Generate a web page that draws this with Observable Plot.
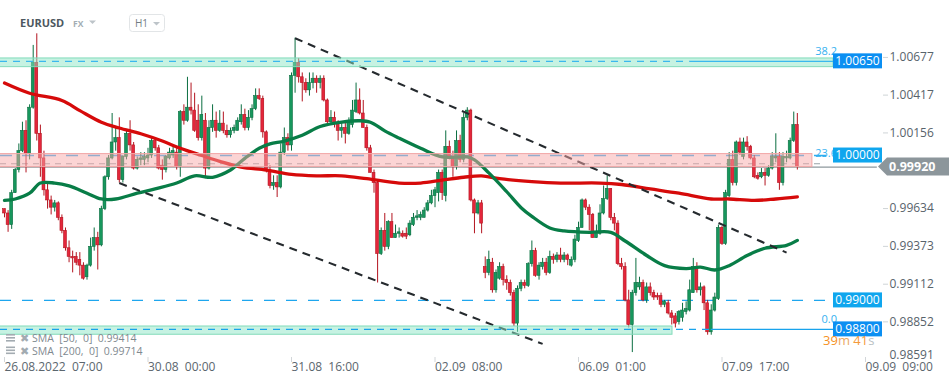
<!DOCTYPE html>
<html><head><meta charset="utf-8">
<script src="https://cdn.jsdelivr.net/npm/d3@7"></script>
<script src="https://cdn.jsdelivr.net/npm/@observablehq/plot@0.6"></script>
<style>
html,body{margin:0;padding:0;background:#fff;}
#chart{width:949px;height:384px;overflow:hidden;}
</style></head><body><div id="chart"></div>
<script>
// ---- Candles (EURUSD H1, bar index 0 = 26.08.2022 07:00) ----
const opens = [
0.9963,0.9960,0.9952,0.9974,0.9990,1.0003,1.0017,1.0001,1.0033,1.0064,
1.0015,0.9998,0.9976,0.9969,0.9964,0.9967,0.9957,0.9948,0.9936,0.9930,
0.9930,0.9928,0.9924,0.9916,0.9924,0.9937,0.9943,0.9938,0.9963,0.9985,
0.9998,1.0009,1.0012,0.9983,0.9999,1.0015,1.0007,0.9991,0.9997,0.9997,
0.9998,1.0000,1.0010,1.0005,0.9993,0.9990,0.9998,1.0000,1.0002,0.9992,
1.0030,1.0024,1.0033,1.0031,1.0024,1.0012,1.0024,0.9991,1.0019,1.0024,
1.0017,1.0022,1.0017,1.0014,1.0017,1.0017,1.0023,1.0028,1.0019,1.0026,
1.0032,1.0041,1.0039,1.0016,0.9990,0.9979,0.9981,0.9978,1.0002,1.0012,
1.0007,1.0055,1.0064,1.0054,1.0050,1.0045,1.0050,1.0053,1.0050,1.0053,
1.0038,1.0023,1.0026,1.0022,1.0017,1.0019,1.0015,1.0021,1.0030,1.0038,
1.0029,1.0019,1.0005,0.9988,0.9981,0.9932,0.9948,0.9937,0.9954,0.9943,
0.9946,0.9946,0.9946,0.9945,0.9952,0.9957,0.9957,0.9957,0.9962,0.9967,
0.9972,0.9974,0.9988,0.9972,1.0006,0.9999,0.9992,1.0010,0.9997,1.0026,
1.0031,0.9969,0.9960,0.9967,0.9923,0.9919,0.9926,0.9907,0.9915,0.9923,
0.9914,0.9912,0.9905,0.9884,0.9908,0.9912,0.9910,0.9925,0.9934,0.9917,
0.9923,0.9926,0.9919,0.9930,0.9928,0.9931,0.9928,0.9931,0.9924,0.9928,
0.9941,0.9950,0.9969,0.9964,0.9959,0.9943,0.9946,0.9960,0.9970,0.9977,
0.9957,0.9953,0.9925,0.9923,0.9900,0.9883,0.9905,0.9909,0.9912,0.9900,
0.9909,0.9905,0.9903,0.9903,0.9897,0.9898,0.9891,0.9889,0.9885,0.9888,
0.9892,0.9893,0.9905,0.9923,0.9907,0.9909,0.9898,0.9878,0.9893,0.9901,
0.9950,0.9939,0.9972,0.9997,0.9981,1.0009,0.9999,1.0009,1.0006,0.9998,
0.9986,0.9985,0.9988,0.9986,0.9991,0.9998,0.9999,0.9981,0.9998,0.9998,
1.0010,1.0021];
const highs = [
0.9963,0.9962,0.9976,0.9991,1.0008,1.0023,1.0024,1.0035,1.0076,1.0084,
1.0021,1.0003,0.9981,0.9972,0.9969,0.9968,0.9959,0.9950,0.9941,0.9934,
0.9933,0.9933,0.9926,0.9925,0.9943,0.9950,0.9947,0.9965,0.9986,1.0000,
1.0029,1.0019,1.0026,1.0000,1.0017,1.0024,1.0009,0.9999,1.0002,1.0002,
1.0005,1.0012,1.0012,1.0007,0.9997,1.0000,1.0005,1.0007,1.0005,1.0031,
1.0035,1.0054,1.0050,1.0043,1.0035,1.0041,1.0029,1.0024,1.0035,1.0030,
1.0031,1.0030,1.0021,1.0019,1.0021,1.0026,1.0035,1.0032,1.0031,1.0035,
1.0046,1.0046,1.0041,1.0017,0.9993,0.9986,0.9986,1.0008,1.0019,1.0015,
1.0057,1.0081,1.0067,1.0057,1.0053,1.0057,1.0057,1.0055,1.0055,1.0055,
1.0039,1.0031,1.0030,1.0024,1.0023,1.0023,1.0026,1.0038,1.0050,1.0046,
1.0038,1.0021,1.0007,0.9990,0.9983,0.9950,0.9960,0.9955,0.9960,0.9952,
0.9950,0.9948,0.9950,0.9955,0.9960,0.9962,0.9961,0.9964,0.9969,0.9976,
0.9978,0.9990,0.9990,1.0017,1.0010,1.0003,1.0017,1.0014,1.0029,1.0033,
1.0032,0.9970,0.9969,0.9969,0.9930,0.9934,0.9929,0.9921,0.9926,0.9925,
0.9917,0.9914,0.9907,0.9910,0.9914,0.9914,0.9926,0.9941,0.9936,0.9926,
0.9929,0.9929,0.9934,0.9932,0.9933,0.9936,0.9933,0.9932,0.9930,0.9945,
0.9954,0.9970,0.9970,0.9966,0.9960,0.9952,0.9966,0.9979,0.9986,0.9977,
0.9960,0.9955,0.9929,0.9926,0.9907,0.9907,0.9929,0.9916,0.9914,0.9912,
0.9912,0.9907,0.9905,0.9905,0.9900,0.9900,0.9893,0.9891,0.9893,0.9898,
0.9899,0.9914,0.9929,0.9926,0.9912,0.9910,0.9900,0.9897,0.9905,0.9952,
0.9951,0.9976,1.0002,1.0003,1.0010,1.0012,1.0012,1.0013,1.0007,1.0000,
0.9988,0.9991,0.9991,0.9993,1.0002,1.0015,1.0002,1.0002,1.0003,1.0012,
1.0030,1.0029];
const lows = [
0.9957,0.9947,0.9949,0.9974,0.9988,1.0002,0.9988,0.9997,1.0032,1.0010,
0.9985,0.9972,0.9963,0.9959,0.9961,0.9955,0.9946,0.9934,0.9926,0.9919,
0.9924,0.9917,0.9914,0.9914,0.9923,0.9934,0.9921,0.9937,0.9962,0.9983,
0.9997,1.0003,0.9981,0.9981,0.9997,1.0003,0.9990,0.9990,0.9993,0.9993,
0.9995,0.9998,1.0003,0.9990,0.9983,0.9988,0.9997,0.9998,0.9990,0.9985,
1.0021,1.0023,1.0028,1.0016,1.0010,1.0010,0.9984,0.9990,1.0016,1.0012,
1.0016,1.0015,1.0012,1.0012,1.0015,1.0017,1.0021,1.0017,1.0017,1.0024,
1.0031,1.0038,1.0012,0.9988,0.9977,0.9976,0.9971,0.9977,1.0000,1.0003,
1.0003,1.0043,1.0050,1.0037,1.0043,1.0041,1.0046,1.0043,1.0046,1.0037,
1.0021,1.0021,1.0019,1.0010,1.0012,1.0008,1.0014,1.0019,1.0029,1.0028,
1.0019,1.0003,0.9988,0.9974,0.9912,0.9931,0.9934,0.9935,0.9943,0.9943,
0.9943,0.9943,0.9942,0.9944,0.9951,0.9955,0.9955,0.9957,0.9961,0.9966,
0.9964,0.9968,0.9969,0.9968,0.9997,0.9985,0.9990,0.9995,0.9995,1.0024,
0.9968,0.9946,0.9959,0.9946,0.9915,0.9917,0.9905,0.9905,0.9914,0.9910,
0.9907,0.9903,0.9882,0.9878,0.9906,0.9908,0.9909,0.9923,0.9916,0.9914,
0.9921,0.9917,0.9918,0.9925,0.9926,0.9926,0.9926,0.9924,0.9923,0.9926,
0.9940,0.9950,0.9962,0.9948,0.9943,0.9943,0.9945,0.9959,0.9969,0.9955,
0.9948,0.9924,0.9921,0.9899,0.9881,0.9864,0.9903,0.9907,0.9899,0.9898,
0.9903,0.9900,0.9900,0.9895,0.9895,0.9890,0.9883,0.9881,0.9883,0.9885,
0.9890,0.9892,0.9905,0.9905,0.9903,0.9893,0.9876,0.9876,0.9892,0.9900,
0.9938,0.9938,0.9971,0.9979,0.9979,1.0000,0.9997,1.0003,0.9997,0.9984,
0.9983,0.9984,0.9979,0.9985,0.9990,0.9995,0.9976,0.9979,0.9995,0.9997,
1.0009,0.9990];
const closes = [
0.9960,0.9952,0.9974,0.9990,1.0003,1.0017,1.0001,1.0033,1.0064,1.0015,
0.9998,0.9976,0.9969,0.9964,0.9967,0.9957,0.9948,0.9936,0.9930,0.9929,
0.9926,0.9924,0.9915,0.9924,0.9937,0.9943,0.9938,0.9963,0.9985,0.9998,
1.0009,1.0012,0.9983,0.9999,1.0015,1.0007,0.9991,0.9997,0.9998,0.9999,
1.0000,1.0010,1.0005,0.9991,0.9990,0.9999,1.0002,1.0003,0.9992,1.0030,
1.0024,1.0033,1.0031,1.0017,1.0012,1.0028,0.9991,1.0019,1.0024,1.0017,
1.0022,1.0017,1.0014,1.0017,1.0019,1.0024,1.0028,1.0019,1.0026,1.0032,
1.0041,1.0039,1.0016,0.9990,0.9979,0.9981,0.9978,1.0002,1.0012,1.0007,
1.0055,1.0064,1.0054,1.0050,1.0045,1.0050,1.0053,1.0050,1.0053,1.0038,
1.0023,1.0026,1.0022,1.0017,1.0019,1.0015,1.0024,1.0031,1.0038,1.0029,
1.0019,1.0005,0.9988,0.9981,0.9932,0.9948,0.9937,0.9954,0.9943,0.9946,
0.9947,0.9944,0.9944,0.9953,0.9957,0.9958,0.9959,0.9962,0.9967,0.9972,
0.9976,0.9988,0.9974,1.0006,0.9999,0.9992,1.0010,0.9997,1.0026,1.0031,
0.9969,0.9960,0.9967,0.9953,0.9919,0.9928,0.9907,0.9919,0.9923,0.9914,
0.9912,0.9905,0.9884,0.9908,0.9912,0.9910,0.9925,0.9934,0.9917,0.9924,
0.9926,0.9919,0.9930,0.9928,0.9931,0.9928,0.9931,0.9928,0.9928,0.9942,
0.9950,0.9969,0.9964,0.9959,0.9943,0.9947,0.9960,0.9970,0.9977,0.9957,
0.9953,0.9925,0.9923,0.9900,0.9883,0.9905,0.9912,0.9912,0.9900,0.9909,
0.9905,0.9902,0.9902,0.9897,0.9899,0.9891,0.9888,0.9884,0.9892,0.9893,
0.9894,0.9907,0.9923,0.9907,0.9909,0.9898,0.9878,0.9893,0.9902,0.9950,
0.9939,0.9974,0.9997,0.9981,1.0009,1.0002,1.0009,1.0006,0.9998,0.9985,
0.9984,0.9988,0.9986,0.9991,0.9999,0.9999,0.9981,0.9999,0.9999,1.0010,
1.0021,0.9992];

// ---- Moving averages (bar index -> value) ----
const sma50Idx = [0,3,7,10,14,18,23,27,31,37,42,48,53,58,63,67,71,74,78,83,88,94,99,102,106,110,116,122,129,131,135,140,144,147,152,156,163,169,173,179,184,190,194,198,202,207,212,218,221];
const sma50 = [0.9969,0.9970,0.9974,0.9981,0.9981,0.9979,0.9974,0.9970,0.9970,0.9974,0.9977,0.9981,0.9986,0.9985,0.9990,0.9998,1.0005,1.0008,1.0010,1.0014,1.0020,1.0023,1.0024,1.0023,1.0017,1.0012,1.0005,0.9999,0.9999,0.9997,0.9988,0.9975,0.9964,0.9958,0.9950,0.9948,0.9947,0.9947,0.9941,0.9931,0.9924,0.9922,0.9923,0.9921,0.9924,0.9931,0.9936,0.9938,0.99414];
const sma200Idx = [0,7,16,21,27,32,38,44,49,55,60,66,73,80,87,94,101,110,116,122,128,133,138,147,155,166,172,180,188,197,202,209,215,221];
const sma200 = [1.0050,1.0043,1.0038,1.0031,1.0023,1.0019,1.0015,1.0010,1.0005,1.0000,0.9996,0.9992,0.9990,0.9987,0.9986,0.9986,0.9984,0.9981,0.9981,0.9983,0.9985,0.9986,0.9984,0.9982,0.9981,0.9981,0.9980,0.9977,0.9974,0.9970,0.9970,0.9969,0.9970,0.99714];

// ---- Drawings ----
const trendFrom = [[81, 1.0081], [32, 0.9981]];
const trendTo   = [[218, 0.9933], [150, 0.9870]];
const zoneLo   = [1.0061, 0.9992, 0.98763];
const zoneHi   = [1.0067, 1.0001, 0.98820];
const zoneEnd  = [231.08, 225.2, 186.2];
const zoneKind = ["green", "pink", "green"];
const fibLevels = [0.98800, 0.99943, 1.00650];
const fibNames  = ["0.0", "23.6", "38.2"];
const priceTagValues = [1.00650, 1.00000, 0.99000, 0.98800];
const currentPrice = 0.99920;

// ---- Axes ----
const yTicks = [1.00677, 1.00417, 1.00156, 0.99634, 0.99373, 0.99112, 0.98852];
const yTickBottom = 0.98591;
const xTickIdx = [0, 40, 80, 120, 160, 200, 240];
const xLabels = ["26.08.2022\u00a0\u00a007:00", "30.08\u00a0\u00a000:00", "31.08\u00a0\u00a016:00", "02.09\u00a0\u00a008:00", "06.09\u00a0\u00a001:00", "07.09\u00a0\u00a017:00", "09.09\u00a0\u00a009:00"];

const FONT = "'Open Sans', 'Noto Sans', sans-serif";
const W = 949, H = 384;
const xDomain = [-1.115, 231.08];
const yDomain = [0.98606, 1.01070];
const G_FILL = "#17975d", G_EDGE = "#0b6e41", R_FILL = "#e4263b", R_EDGE = "#b3141f";

const bars = closes.map((c, i) => ({i, o: opens[i], h: highs[i], l: lows[i], c, up: c >= opens[i]}));
const s50 = sma50Idx.map((i, k) => ({i, v: sma50[k]}));
const s200 = sma200Idx.map((i, k) => ({i, v: sma200[k]}));
const trends = trendFrom.map((a, k) => ({i1: a[0], p1: a[1], i2: trendTo[k][0], p2: trendTo[k][1]}));
const zones = zoneLo.map((lo, k) => ({lo, hi: zoneHi[k], end: zoneEnd[k], kind: zoneKind[k]}));
const L0 = xDomain[0], L1 = xDomain[1];

const chart = Plot.plot({
  width: W, height: H,
  marginLeft: 0, marginRight: 116, marginTop: 0, marginBottom: 27,
  x: {domain: xDomain, axis: null},
  y: {domain: yDomain, axis: null},
  color: {type: "identity"},
  style: {fontFamily: FONT, background: "#fff", overflow: "visible"},
  marks: [
    Plot.ruleY([1.0000], {x1: L0, x2: L1, stroke: "#2eaef0", strokeWidth: 1.5, strokeDasharray: "12,10"}),
    Plot.ruleY([0.9900], {x1: L0, x2: L1, stroke: "#1ea6ee", strokeWidth: 1.4, strokeDasharray: "11,11"}),
    Plot.ruleY([fibLevels[1]], {x1: L0, x2: 228.3, stroke: "#98a2a8", strokeWidth: 1.1, strokeDasharray: "6,5"}),
    Plot.ruleY([currentPrice], {x1: L0, x2: 243.3, stroke: "#8e989d", strokeWidth: 1.4}),
    Plot.ruleX(bars, {x: "i", y1: "l", y2: "h", stroke: d => d.up ? G_EDGE : R_EDGE, strokeWidth: 1}),
    Plot.rect(bars, {x1: d => d.i - 0.4, x2: d => d.i + 0.4, y1: "o",
      y2: d => Math.abs(d.c - d.o) < 0.00003 ? d.o + 0.00004 : d.c,
      fill: d => d.up ? G_FILL : R_FILL, stroke: d => d.up ? G_EDGE : R_EDGE, strokeWidth: 0.6}),
    Plot.line(s200, {x: "i", y: "v", stroke: "#d60a0a", strokeWidth: 3.3, curve: "catmull-rom"}),
    Plot.line(s50, {x: "i", y: "v", stroke: "#087d47", strokeWidth: 3.3, curve: "catmull-rom"}),
    Plot.link(trends, {x1: "i1", y1: "p1", x2: "i2", y2: "p2", stroke: "#252a2e", strokeWidth: 2.1, strokeDasharray: "8,6"}),
    Plot.rect(zones, {x1: L0 - 0.5, x2: "end", y1: "lo", y2: "hi",
      fill: d => d.kind === "pink" ? "#f7a9a9" : "#8de6c6", fillOpacity: 0.5,
      stroke: d => d.kind === "pink" ? "#f2a7a7" : "#82dbbb", strokeWidth: 1}),
    Plot.ruleY([fibLevels[2]], {x1: L0, x2: 191, stroke: "#3bb8ee", strokeWidth: 1.3, strokeDasharray: "7,6"}),
    Plot.ruleY([fibLevels[2]], {x1: 191, x2: L1, stroke: "#3bb8ee", strokeWidth: 1.3}),
    Plot.ruleY([fibLevels[0]], {x1: L0, x2: 197, stroke: "#18a3ec", strokeWidth: 1.3, strokeDasharray: "7,6"}),
    Plot.ruleY([fibLevels[0]], {x1: 197, x2: L1, stroke: "#18a3ec", strokeWidth: 1.3}),
    Plot.axisY({anchor: "right", ticks: yTicks, tickSize: 5, tickPadding: 2, dx: 49,
      tickFormat: d => d.toFixed(5), fontSize: 12, stroke: "#cfd4d7", fill: "#58636b", textAnchor: "start"}),
    Plot.text([yTickBottom], {y: d => d, frameAnchor: "right", dx: 56, dy: -5, text: d => d.toFixed(5),
      textAnchor: "start", fontSize: 12, fill: "#58636b"}),
    Plot.axisX({anchor: "bottom", ticks: xTickIdx, tickSize: 5, tickPadding: 0,
      tickFormat: d => xLabels[xTickIdx.indexOf(d)], textAnchor: "start", fontSize: 12,
      stroke: "#d2d6d9", fill: "#5b666e"})
  ]
});
document.getElementById("chart").appendChild(chart);

// ---- overlays placed through the plot's scales ----
const svg = d3.select(chart);
const sy = v => chart.scale("y").apply(v);
const FR = chart.scale("x").apply(xDomain[1]);
const g = svg.append("g").attr("font-family", FONT).attr("text-anchor", "start");

fibLevels.forEach((v, k) => {
  g.append("text").attr("x", FR + 4).attr("y", sy(v) - 6).attr("text-anchor", "end")
    .attr("font-size", 11).attr("fill", "#35b1f0").text(fibNames[k]);
});
const tagFill = ["#0b8ff2", "#0fa6ee", "#0fa6ee", "#0b8ff2"];
priceTagValues.forEach((v, k) => {
  const y = sy(v);
  g.append("rect").attr("x", FR).attr("y", y - 7.5).attr("width", 49).attr("height", 15).attr("fill", tagFill[k]);
  g.append("text").attr("x", FR + 24.5).attr("y", y + 4.3).attr("text-anchor", "middle")
    .attr("font-size", 12).attr("fill", "#fff").text(v.toFixed(5));
});
const cd = g.append("text").attr("x", FR - 10).attr("y", sy(0.988) + 16).attr("font-size", 13);
cd.append("tspan").attr("fill", "#f5921e").text("39");
cd.append("tspan").attr("fill", "#eaa865").text("m ");
cd.append("tspan").attr("fill", "#f59a3c").text("41");
cd.append("tspan").attr("fill", "#b9bfc3").text("s");
{
  const y = sy(currentPrice), x0 = FR + 45;
  g.append("path").attr("d", `M${x0},${y} L${x0 + 9},${y - 9} L${x0 + 103},${y - 9} L${x0 + 103},${y + 9} L${x0 + 9},${y + 9} Z`).attr("fill", "#8c969b");
  g.append("text").attr("x", FR + 56).attr("y", y + 4.6).attr("font-size", 12.5).attr("font-weight", 700)
    .attr("fill", "#fff").text(currentPrice.toFixed(5));
}
g.append("text").attr("x", 20).attr("y", 27.3).attr("font-size", 11).attr("font-weight", 700).attr("fill", "#4d5860").text("EURUSD");
g.append("text").attr("x", 73).attr("y", 27.3).attr("font-size", 8.5).attr("font-weight", 700).attr("fill", "#a3adb4").text("FX");
g.append("path").attr("d", "M89,20.5 L96,20.5 L92.5,24 Z").attr("fill", "#bdc4c9");
g.append("rect").attr("x", 129.5).attr("y", 14.5).attr("width", 35).attr("height", 17).attr("rx", 3)
  .attr("fill", "#fff").attr("stroke", "#e2e5e7");
g.append("text").attr("x", 135).attr("y", 27.2).attr("font-size", 10).attr("fill", "#737d84").text("H1");
g.append("path").attr("d", "M153,22 L160,22 L156.5,25.5 Z").attr("fill", "#bdc4c9");
const legend = [["SMA  [50,  0]  " + sma50[sma50.length - 1].toFixed(5), 342], ["SMA  [200,  0]  " + sma200[sma200.length - 1].toFixed(5), 354.5]];
legend.forEach(([t, y]) => {
  for (let r = 0; r < 3; r++) g.append("rect").attr("x", 6).attr("y", y - 8 + r * 3).attr("width", 9).attr("height", 1.6).attr("fill", "#a3abb1");
  g.append("text").attr("x", 20).attr("y", y).attr("font-size", 10.5).attr("fill", "#a3abb1").text("\u2716");
  g.append("text").attr("x", 32).attr("y", y).attr("font-size", 10.5).attr("fill", "#7f8990")
    .style("white-space", "pre").text(t);
});
</script></body></html>
